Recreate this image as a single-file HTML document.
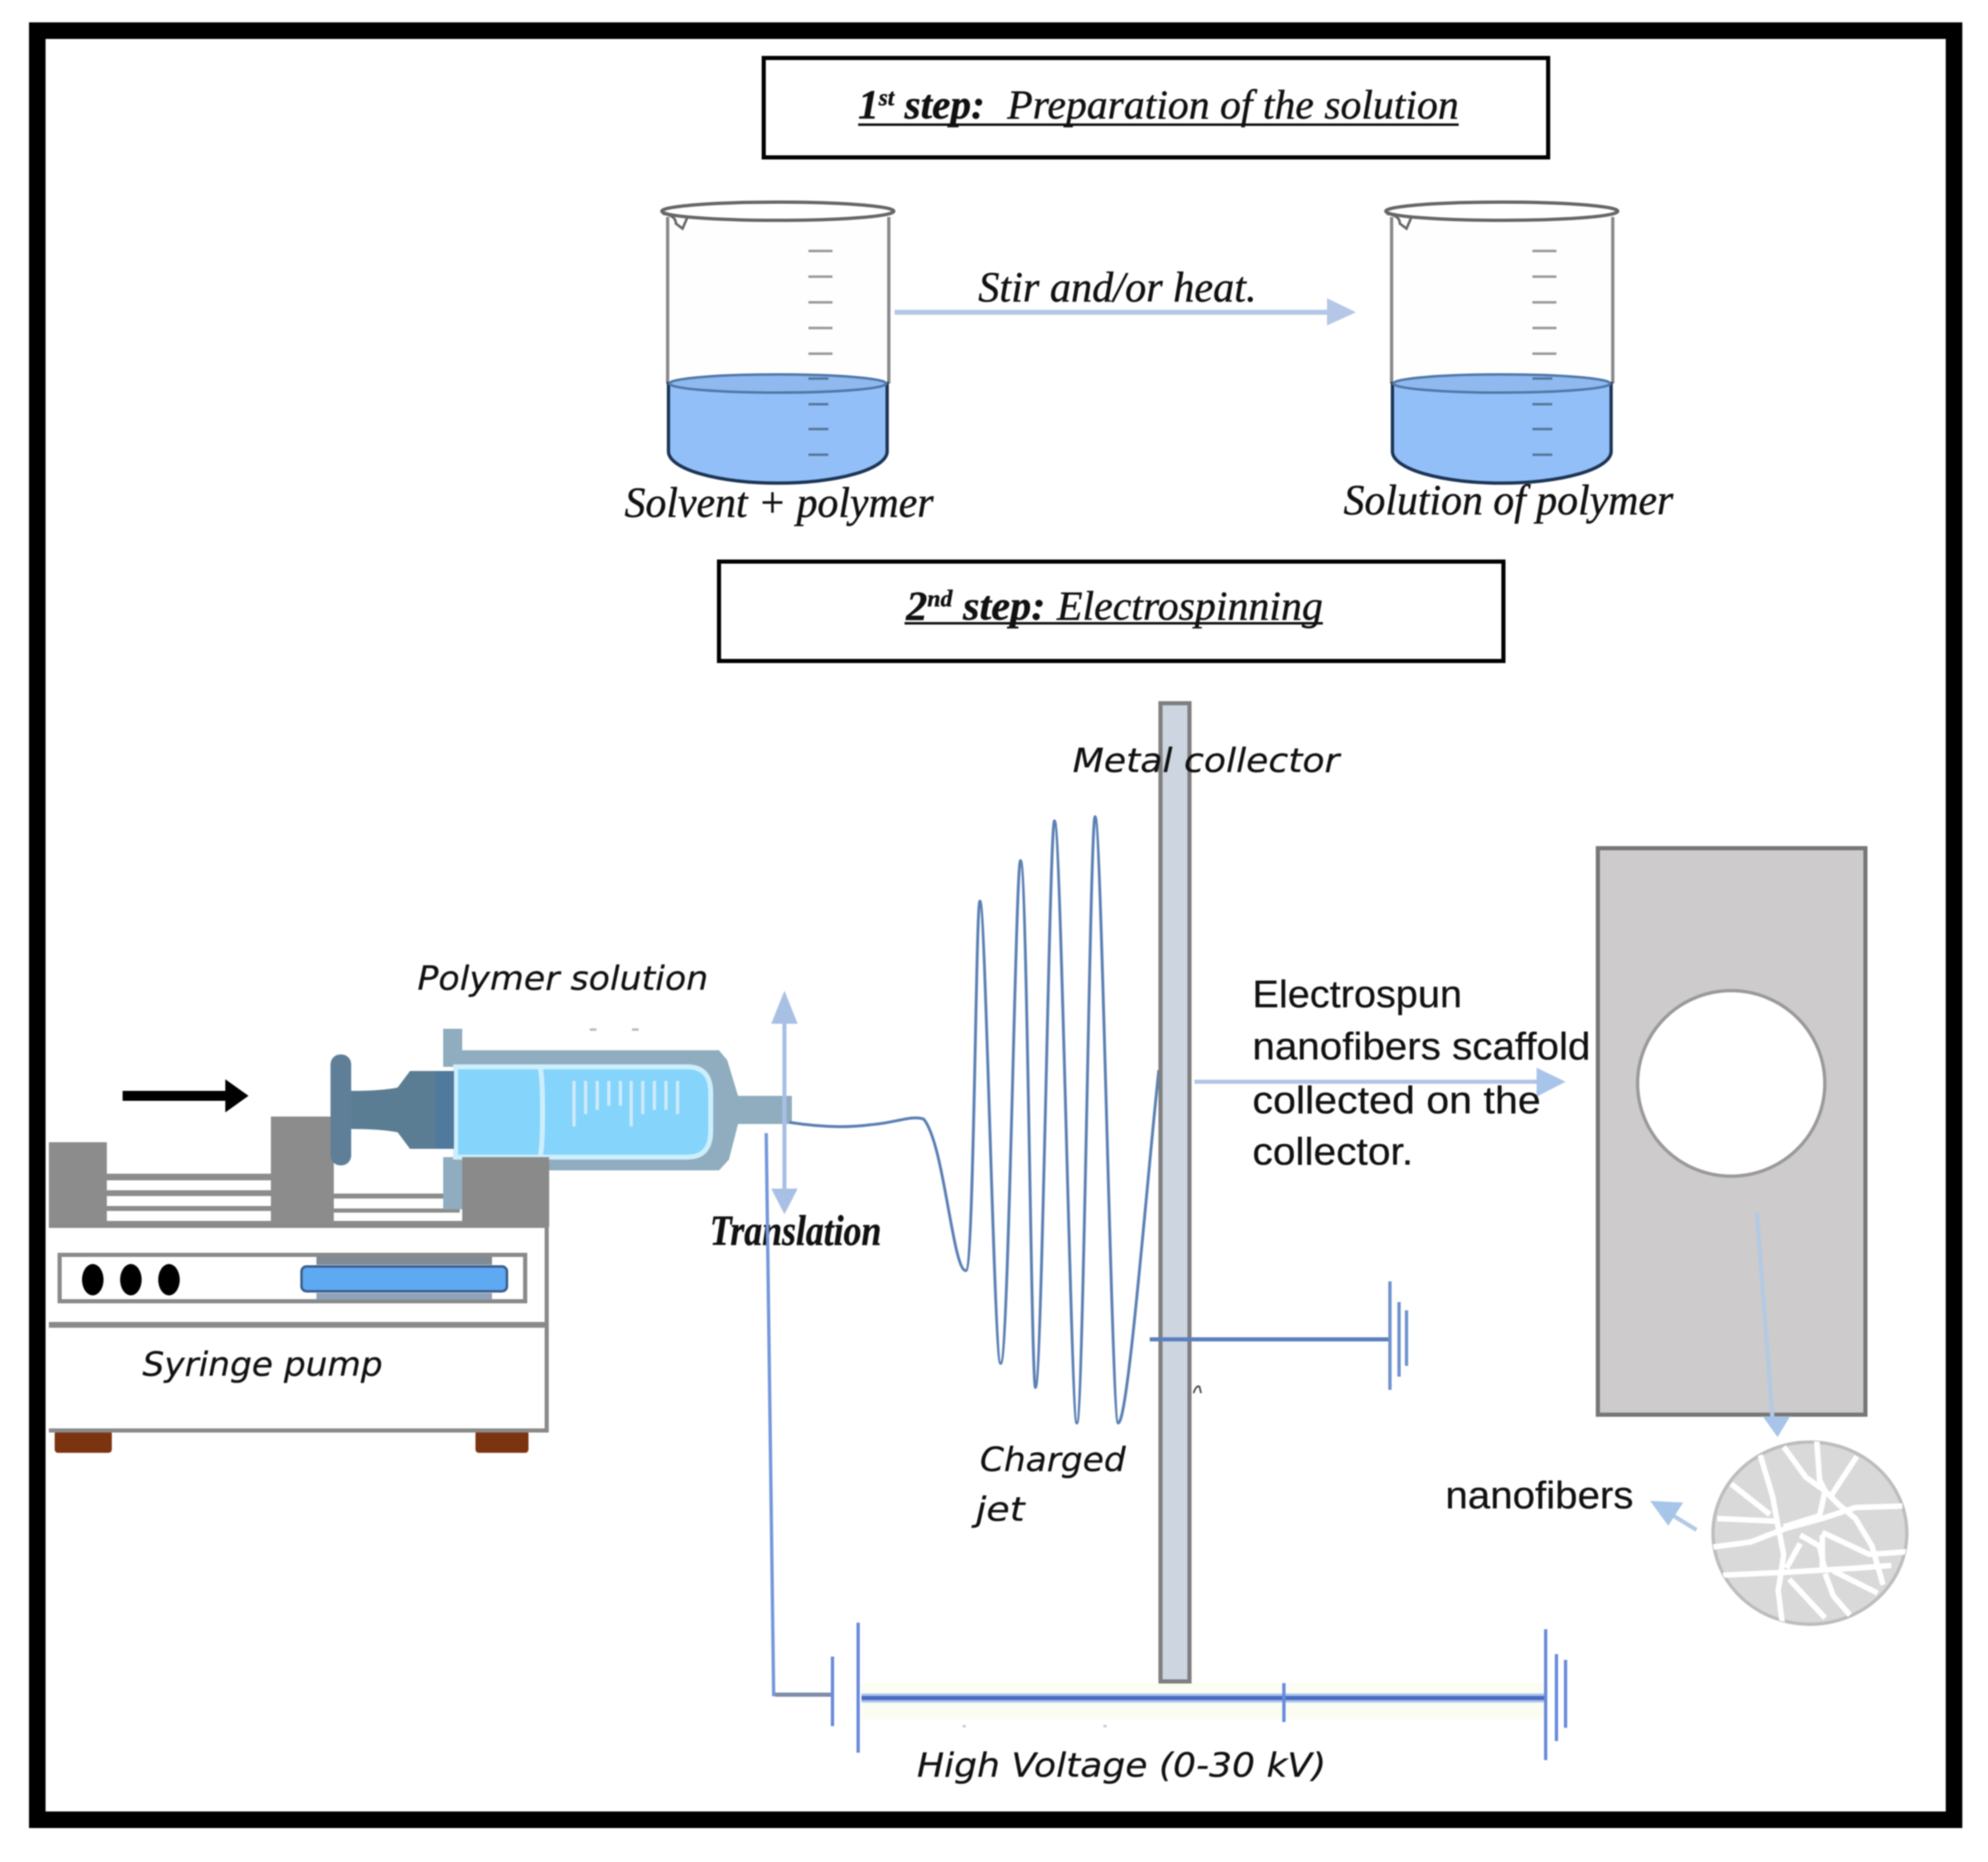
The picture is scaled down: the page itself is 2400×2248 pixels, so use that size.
<!DOCTYPE html>
<html><head><meta charset="utf-8"><style>
html,body{margin:0;padding:0;background:#fff;width:2400px;height:2248px;overflow:hidden}
svg{display:block;filter:blur(.7px)}
.c{font-family:"Liberation Serif",serif;font-style:italic;fill:#111;stroke:#111;stroke-width:.5}
.o{font-family:"DejaVu Sans",sans-serif;font-style:oblique;fill:#111;stroke:#111;stroke-width:.3}
.s{font-family:"Liberation Sans",sans-serif;fill:#111;stroke:#111;stroke-width:.3}
</style></head><body>
<svg width="2400" height="2248" viewBox="0 0 2400 2248" xmlns="http://www.w3.org/2000/svg">
<defs>
<clipPath id="nc"><ellipse cx="2185" cy="1851" rx="118" ry="111"/></clipPath>
<g id="beaker">
<rect x="806" y="256" width="268" height="300" fill="#fefefe"/>
<path d="M806 262V463M1073 262V463" fill="none" stroke="#8a8a8a" stroke-width="4"/>
<path d="M807 463V545A131 38 0 0 0 1071 545V463Z" fill="#93bff8" stroke="#1c3556" stroke-width="4"/>
<path d="M808 463A131 11 0 0 1 1070 463A131 11 0 0 1 808 463Z" fill="#8fb9ef" stroke="#4f77a8" stroke-width="3"/>
<ellipse cx="939" cy="255" rx="140" ry="11" fill="#fff" stroke="#666" stroke-width="4"/>
<path d="M800 258Q816 260 816 270L824 276L830 262" stroke="#666" stroke-width="3" fill="none"/>
<g stroke="#999" stroke-width="3"><path d="M976 303H1005M976 334H1005M976 365H1005M976 396H1005M976 427H1005"/></g>
<g stroke="#56779c" stroke-width="3"><path d="M976 457H1000M976 488H1000M976 518H1000M976 549H1000"/></g>
</g>
</defs>

<rect x="45" y="37" width="2314" height="2160" fill="#fff" stroke="#000" stroke-width="20"/>

<!-- header boxes -->
<rect x="922" y="70" width="947" height="120" fill="#fff" stroke="#000" stroke-width="5"/>
<rect x="868" y="678" width="947" height="120" fill="#fff" stroke="#000" stroke-width="5"/>
<text class="c" x="1036" y="143" font-size="50" font-weight="bold" textLength="153" lengthAdjust="spacingAndGlyphs">1<tspan font-size="28" dy="-16">st</tspan><tspan dy="16"> step:</tspan></text>
<text class="c" x="1216" y="143" font-size="50" textLength="545" lengthAdjust="spacingAndGlyphs">Preparation of the solution</text>
<rect x="1036" y="149" width="725" height="3" fill="#111"/>
<text class="c" x="1094" y="748" font-size="50" font-weight="bold" textLength="168" lengthAdjust="spacingAndGlyphs">2<tspan font-size="28" dy="-16">nd</tspan><tspan dy="16"> step:</tspan></text>
<text class="c" x="1276" y="748" font-size="50" textLength="321" lengthAdjust="spacingAndGlyphs">Electrospinning</text>
<rect x="1092" y="751" width="505" height="3" fill="#111"/>

<!-- beakers -->
<use href="#beaker"/>
<use href="#beaker" x="874"/>
<path d="M1080 377H1604" stroke="#b4c7e7" stroke-width="6"/>
<path d="M1602 360L1637 377L1602 393Z" fill="#b4c7e7"/>
<text class="c" x="1181" y="364" font-size="52" textLength="336" lengthAdjust="spacingAndGlyphs">Stir and/or heat.</text>
<text class="c" x="754" y="624" font-size="52" textLength="373" lengthAdjust="spacingAndGlyphs">Solvent + polymer</text>
<text class="c" x="1622" y="621" font-size="52" textLength="398" lengthAdjust="spacingAndGlyphs">Solution of polymer</text>

<!-- pump -->
<g fill="#8c8c8c">
<rect x="59" y="1379" width="70" height="102"/>
<rect x="327" y="1348" width="76" height="133"/>
<rect x="129" y="1417" width="198" height="8"/><rect x="129" y="1437" width="198" height="7"/><rect x="129" y="1456" width="198" height="6"/><rect x="129" y="1474" width="198" height="7"/>
<rect x="403" y="1441" width="152" height="6"/><rect x="403" y="1459" width="152" height="5"/><rect x="403" y="1474" width="155" height="7"/>
</g>
<rect x="66" y="1727" width="69" height="27" rx="4" fill="#7c3410"/>
<rect x="574" y="1727" width="64" height="27" rx="4" fill="#7c3410"/>
<path d="M59 1480H660V1727H59" fill="#fff" stroke="#8a8a8a" stroke-width="5"/>
<rect x="59" y="1596" width="601" height="7" fill="#8a8a8a"/>
<rect x="72" y="1515" width="562" height="56" fill="#fff" stroke="#8a8a8a" stroke-width="5"/>
<rect x="382" y="1517" width="212" height="10" fill="#808a94"/>
<rect x="382" y="1561" width="212" height="8" fill="#8ea3b8"/>
<ellipse cx="112" cy="1545" rx="13" ry="19" fill="#000"/><ellipse cx="158" cy="1545" rx="13" ry="19" fill="#000"/><ellipse cx="204" cy="1545" rx="13" ry="19" fill="#000"/>
<rect x="364" y="1529" width="248" height="30" rx="6" fill="#5eaaf2" stroke="#3c5c8c" stroke-width="3"/>
<text class="o" x="172" y="1661" font-size="40" textLength="290" lengthAdjust="spacingAndGlyphs">Syringe pump</text>

<!-- syringe -->
<path d="M535 1242H558V1268H868L878 1280L891 1323H956V1357H891L880 1400L868 1413H558V1460H535V1397H552V1288H535Z" fill="#8fadbf"/>
<path d="M550 1288H830Q858 1288 858 1320V1365Q858 1397 830 1397H550Z" fill="#85d4fb" stroke="#cdeefc" stroke-width="6"/>
<path d="M652 1288Q655 1300 655 1342Q655 1385 652 1397" fill="none" stroke="#cdeefc" stroke-width="6"/>
<g stroke="#cfeafa" stroke-width="4"><path d="M693 1305V1360M707 1305V1345M721 1305V1340M735 1305V1335M749 1305V1335M762 1305V1360M776 1305V1345M790 1305V1340M804 1305V1340M818 1305V1345"/></g>
<rect x="399" y="1273" width="25" height="134" rx="12" fill="#5f7f99"/>
<path d="M424 1317Q460 1317 480 1313L495 1293H548V1387H495L480 1367Q460 1363 424 1363Z" fill="#5b7d94"/>
<rect x="526" y="1293" width="22" height="94" fill="#4f7a9e"/>
<rect x="558" y="1397" width="105" height="84" fill="#8a8a8a"/>
<path d="M712 1243h8M763 1243h8" stroke="#bbb" stroke-width="3"/>
<path d="M148 1323H285" stroke="#000" stroke-width="12"/>
<path d="M272 1303L300 1323L272 1343Z" fill="#000"/>
<text class="o" x="504" y="1195" font-size="40" textLength="351" lengthAdjust="spacingAndGlyphs">Polymer solution</text>

<!-- translation -->
<path d="M947 1230V1440" stroke="#a9c0e5" stroke-width="5"/>
<path d="M947 1196L963 1236H931Z" fill="#a9c0e5"/>
<path d="M947 1466L963 1435H931Z" fill="#a9c0e5"/>
<text class="c" x="857" y="1503" font-size="52" font-weight="bold" textLength="207" lengthAdjust="spacingAndGlyphs">Translation</text>

<!-- wiring -->
<path d="M925 1368L934 2046H1004" fill="none" stroke="#7397dc" stroke-width="4"/>
<path d="M936 2046H1003" stroke="#7e8ea8" stroke-width="5"/>
<rect x="1040" y="2032" width="824" height="44" fill="#fcfdf2"/>
<path d="M1040 2050H1864" stroke="#a9c5f0" stroke-width="11"/>
<path d="M1040 2050H1864" stroke="#4a6cc0" stroke-width="5"/>
<g stroke="#6a8bdc" stroke-width="4" fill="none">
<path d="M1005 2000V2084M1036 1959V2116M1550 2032V2079M1866 1967V2125M1879 1997V2102M1890 2004V2086"/>
</g>
<path d="M1162 2084h4M1332 2084h4" stroke="#ccc" stroke-width="3"/>

<!-- jet -->
<path d="M953 1355C985 1360 1020 1362 1050 1358C1080 1356 1100 1346 1115 1351C1140 1380 1150 1534 1166 1534C1176 1534 1178 1088 1183 1088C1190 1088 1200 1646 1208 1646C1218 1646 1226 1039 1232 1039C1240 1039 1245 1675 1250 1675C1258 1675 1267 991 1273 991C1281 991 1293 1718 1300 1718C1308 1718 1316 986 1322 986C1330 986 1342 1718 1350 1718C1362 1718 1385 1420 1399 1292" fill="none" stroke="#5b80b4" stroke-width="3.5"/>

<!-- collector -->
<rect x="1401" y="849" width="35" height="1181" fill="#ccd5e0" stroke="#7f7f7f" stroke-width="5"/>
<text class="o" x="1295" y="932" font-size="40" textLength="322" lengthAdjust="spacingAndGlyphs">Metal collector</text>

<!-- ground -->
<path d="M1388 1617H1677" stroke="#5b80bd" stroke-width="5"/>
<g stroke="#6f93cc" stroke-width="4"><path d="M1678 1547V1678M1689 1572V1662M1698 1582V1649"/></g>
<path d="M1441 1682Q1444 1672 1448 1674L1450 1682" fill="none" stroke="#444" stroke-width="2"/>

<!-- arrow & text -->
<path d="M1442 1306H1860" stroke="#b0c6e8" stroke-width="5"/>
<path d="M1855 1289L1890 1306L1855 1324Z" fill="#a9c4ea"/>
<text class="s" x="1512" y="1216" font-size="46" textLength="253" lengthAdjust="spacingAndGlyphs">Electrospun</text>
<text class="s" x="1512" y="1279" font-size="46" textLength="408" lengthAdjust="spacingAndGlyphs">nanofibers scaffold</text>
<text class="s" x="1512" y="1344" font-size="46" textLength="348" lengthAdjust="spacingAndGlyphs">collected on the</text>
<text class="s" x="1512" y="1406" font-size="46" textLength="194" lengthAdjust="spacingAndGlyphs">collector.</text>

<!-- scaffold -->
<rect x="1929" y="1024" width="323" height="684" fill="#cdcbcb" stroke="#777" stroke-width="5"/>
<ellipse cx="2090" cy="1308" rx="113" ry="112" fill="#fff" stroke="#9a9a9a" stroke-width="4"/>
<path d="M2121 1464L2140 1715" stroke="#b4c9e4" stroke-width="5"/>
<path d="M2128 1710H2161L2146 1735Z" fill="#a6c5e8"/>

<!-- nanofibers -->
<ellipse cx="2185" cy="1851" rx="117" ry="110" fill="#d9d9d9" stroke="#bdbdbd" stroke-width="4"/>
<g clip-path="url(#nc)">
<g transform="translate(2040 1720) scale(.3333)" fill="none" stroke="#fff" stroke-width="20" stroke-linejoin="round">
<path d="M340 80L420 190L490 240L540 290L600 340L660 440L700 580"/>
<path d="M460 60L470 200L490 240L470 330L340 370"/>
<path d="M605 115L510 260"/>
<path d="M255 110L300 260L320 370L340 470L330 540L320 600L335 720"/>
<path d="M150 215L290 325"/>
<path d="M100 340L320 350"/>
<path d="M70 445L220 425L350 375L480 340L600 300L770 295"/>
<path d="M120 545L340 535L600 520L730 510"/>
<path d="M360 560L490 700"/>
<path d="M490 540L520 620L580 690"/>
<path d="M520 530L680 610"/>
<path d="M480 390L650 470L790 460"/>
<path d="M400 400L470 440L490 530"/>
<path d="M400 430L350 520"/>
<path d="M480 400V530"/>
</g>
</g>
<text class="s" x="1745" y="1821" font-size="46" textLength="227" lengthAdjust="spacingAndGlyphs">nanofibers</text>
<path d="M2048 1847L2012 1825" stroke="#b4c9e4" stroke-width="5"/>
<path d="M1992 1812L2032 1814L2014 1842Z" fill="#a6c5e8"/>

<text class="o" x="1183" y="1776" font-size="40" textLength="176" lengthAdjust="spacingAndGlyphs">Charged</text>
<text class="o" x="1178" y="1836" font-size="40" textLength="59" lengthAdjust="spacingAndGlyphs">jet</text>
<text class="o" x="1107" y="2145" font-size="40" textLength="494" lengthAdjust="spacingAndGlyphs">High Voltage (0-30 kV)</text>
</svg>
</body></html>
